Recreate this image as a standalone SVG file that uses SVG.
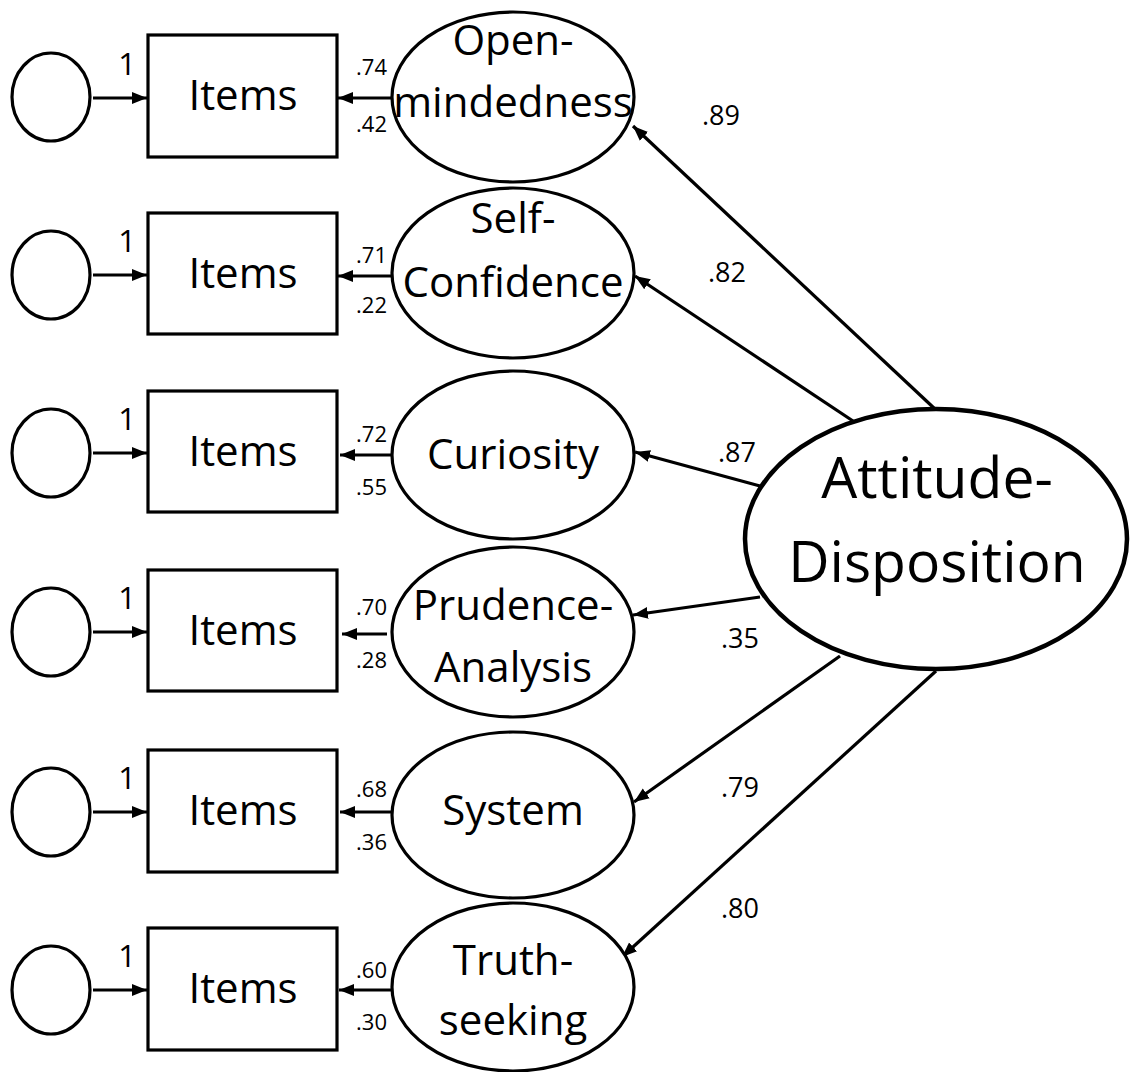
<svg xmlns="http://www.w3.org/2000/svg" width="1130" height="1072" viewBox="0 0 1130 1072">
<style>
.sh{fill:#fff;stroke:#000;stroke-width:3.2}
.big{fill:#fff;stroke:#000;stroke-width:4.5}
.ln{stroke:#000;stroke-width:3.2;fill:none}
.t{font-family:"Open Sans","Noto Sans",sans-serif;fill:#000}
.lbl{font-size:42px;text-anchor:middle}
.one{font-size:31px;text-anchor:middle}
.ld{font-size:22px;text-anchor:end}
.pl{font-size:27px;text-anchor:middle}
</style>
<defs>
<marker id="ah" markerUnits="userSpaceOnUse" markerWidth="18" markerHeight="16" refX="15" refY="8" orient="auto">
<path d="M0,2 L15,8 L0,14 Z" fill="#000"/>
</marker>
</defs>
<rect width="1130" height="1072" fill="#fff"/>
<g id="connectors">
<line class="ln" x1="93" y1="98" x2="147" y2="98" marker-end="url(#ah)"/>
<line class="ln" x1="93" y1="275" x2="147" y2="275" marker-end="url(#ah)"/>
<line class="ln" x1="93" y1="453" x2="147" y2="453" marker-end="url(#ah)"/>
<line class="ln" x1="93" y1="632" x2="147" y2="632" marker-end="url(#ah)"/>
<line class="ln" x1="93" y1="812" x2="147" y2="812" marker-end="url(#ah)"/>
<line class="ln" x1="93" y1="990" x2="147" y2="990" marker-end="url(#ah)"/>
<line class="ln" x1="392" y1="98" x2="338" y2="98" marker-end="url(#ah)"/>
<line class="ln" x1="392" y1="276" x2="338" y2="276" marker-end="url(#ah)"/>
<line class="ln" x1="392" y1="455" x2="340" y2="455" marker-end="url(#ah)"/>
<line class="ln" x1="387" y1="634" x2="342" y2="634" marker-end="url(#ah)"/>
<line class="ln" x1="392" y1="812" x2="340" y2="812" marker-end="url(#ah)"/>
<line class="ln" x1="392" y1="990" x2="339" y2="990" marker-end="url(#ah)"/>
<line class="ln" x1="935" y1="409" x2="633" y2="126" marker-end="url(#ah)"/>
<line class="ln" x1="853" y1="421" x2="635" y2="276" marker-end="url(#ah)"/>
<line class="ln" x1="760" y1="486" x2="635" y2="452" marker-end="url(#ah)"/>
<line class="ln" x1="760" y1="597" x2="633" y2="615" marker-end="url(#ah)"/>
<line class="ln" x1="840" y1="656" x2="634" y2="802" marker-end="url(#ah)"/>
<line class="ln" x1="936" y1="671" x2="622" y2="957" marker-end="url(#ah)"/>
<g class="t">
<text class="one" x="127" y="75">1</text>
<text class="one" x="127" y="252">1</text>
<text class="one" x="127" y="430">1</text>
<text class="one" x="127" y="609">1</text>
<text class="one" x="127" y="789">1</text>
<text class="one" x="127" y="967">1</text>
<text class="ld" x="387" y="75">.74</text>
<text class="ld" x="387" y="132">.42</text>
<text class="ld" x="387" y="263">.71</text>
<text class="ld" x="387" y="313">.22</text>
<text class="ld" x="387" y="442">.72</text>
<text class="ld" x="387" y="495">.55</text>
<text class="ld" x="387" y="615">.70</text>
<text class="ld" x="387" y="668">.28</text>
<text class="ld" x="387" y="797">.68</text>
<text class="ld" x="387" y="850">.36</text>
<text class="ld" x="387" y="978">.60</text>
<text class="ld" x="387" y="1030">.30</text>
<text class="pl" x="721" y="125">.89</text>
<text class="pl" x="727" y="282">.82</text>
<text class="pl" x="737" y="462">.87</text>
<text class="pl" x="740" y="648">.35</text>
<text class="pl" x="740" y="797">.79</text>
<text class="pl" x="740" y="918">.80</text>
</g>
</g>
<g id="e1"><ellipse class="sh" cx="51" cy="97" rx="39" ry="44"/></g>
<g id="e2"><ellipse class="sh" cx="51" cy="275" rx="39" ry="44"/></g>
<g id="e3"><ellipse class="sh" cx="51" cy="453" rx="39" ry="44"/></g>
<g id="e4"><ellipse class="sh" cx="51" cy="632" rx="39" ry="44"/></g>
<g id="e5"><ellipse class="sh" cx="51" cy="812" rx="39" ry="44"/></g>
<g id="e6"><ellipse class="sh" cx="51" cy="990" rx="39" ry="44"/></g>
<g id="items1"><rect class="sh" x="148" y="35" width="189" height="122"/><text class="t lbl" x="243" y="110">Items</text></g>
<g id="items2"><rect class="sh" x="148" y="213" width="189" height="121"/><text class="t lbl" x="243" y="288">Items</text></g>
<g id="items3"><rect class="sh" x="148" y="391" width="189" height="121"/><text class="t lbl" x="243" y="466">Items</text></g>
<g id="items4"><rect class="sh" x="148" y="570" width="189" height="121"/><text class="t lbl" x="243" y="645">Items</text></g>
<g id="items5"><rect class="sh" x="148" y="750" width="189" height="122"/><text class="t lbl" x="243" y="825">Items</text></g>
<g id="items6"><rect class="sh" x="148" y="928" width="189" height="122"/><text class="t lbl" x="243" y="1003">Items</text></g>
<g id="openmindedness"><ellipse class="sh" cx="513" cy="97" rx="121" ry="85"/><text class="t lbl" x="513" y="55">Open-</text><text class="t lbl" x="513" y="117">mindedness</text></g>
<g id="selfconfidence"><ellipse class="sh" cx="513" cy="273" rx="121" ry="85"/><text class="t lbl" x="513" y="233">Self-</text><text class="t lbl" x="513" y="297">Confidence</text></g>
<g id="curiosity"><ellipse class="sh" cx="513" cy="455" rx="121" ry="84"/><text class="t lbl" x="513" y="469">Curiosity</text></g>
<g id="prudence"><ellipse class="sh" cx="513" cy="632" rx="121" ry="85"/><text class="t lbl" x="513" y="620">Prudence-</text><text class="t lbl" x="513" y="682">Analysis</text></g>
<g id="system"><ellipse class="sh" cx="513" cy="815" rx="121" ry="83"/><text class="t lbl" x="513" y="825">System</text></g>
<g id="truthseeking"><ellipse class="sh" cx="513" cy="987" rx="121" ry="84"/><text class="t lbl" x="513" y="975">Truth-</text><text class="t lbl" x="513" y="1035">seeking</text></g>
<g id="attitude"><ellipse class="big" cx="936" cy="539" rx="191" ry="130"/><text class="t" x="937" y="498" font-size="57" text-anchor="middle">Attitude-</text><text class="t" x="937" y="582" font-size="57" text-anchor="middle">Disposition</text></g>
</svg>
